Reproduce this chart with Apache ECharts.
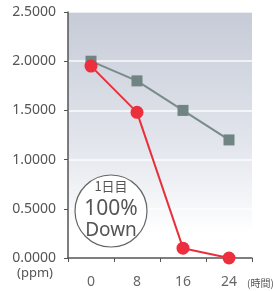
<!DOCTYPE html>
<html>
<head>
<meta charset="utf-8">
<script src="https://cdn.jsdelivr.net/npm/echarts@6/dist/echarts.min.js"></script>
<style>
  html, body { margin: 0; padding: 0; background: #fff; }
  #chart { width: 273px; height: 291px; }
</style>
</head>
<body>
<div id="chart"></div>
<script>
// 時間（カテゴリ）
var hours = ['0', '8', '16', '24'];
// 灰色の系列
var grayValues = [2.0, 1.8, 1.5, 1.2];
// 赤の系列
var redValues = [1.95, 1.48, 0.1, 0.0];
var yTicks = [0, 0.5, 1.0, 1.5, 2.0, 2.5];

var myChart = echarts.init(document.getElementById('chart'));
var fontName = '"Noto Sans", sans-serif';

option = {
    animation: false,
    grid: {
        left: 68, right: 21, top: 12, bottom: 33,
        show: true,
        borderWidth: 0,
        backgroundColor: new echarts.graphic.LinearGradient(0, 0, 0, 1, [
            { offset: 0, color: '#c6cbd7' },
            { offset: 0.55, color: '#e3e6ed' },
            { offset: 0.9, color: '#ffffff' },
            { offset: 1, color: '#ffffff' }
        ])
    },
    xAxis: {
        type: 'category',
        data: hours,
        boundaryGap: true,
        axisLine: { lineStyle: { color: '#555', width: 1.5 } },
        axisTick: { show: true, length: 4, lineStyle: { color: '#555' } },
        axisLabel: { color: '#666', fontSize: 14, fontFamily: fontName, margin: 17 }
    },
    yAxis: {
        type: 'value',
        min: yTicks[0],
        max: yTicks[yTicks.length - 1],
        interval: 0.5,
        axisLine: { show: true, lineStyle: { color: '#555', width: 1.5 } },
        axisTick: { show: true, length: 4, lineStyle: { color: '#555' } },
        axisLabel: {
            color: '#555', fontSize: 14, fontFamily: fontName, margin: 12,
            formatter: function (v) { return v.toFixed(4); }
        },
        splitLine: { show: true, lineStyle: { color: 'rgba(255,255,255,0.9)', width: 1.5 } }
    },
    series: [
        {
            name: 'gray',
            type: 'line',
            data: grayValues,
            symbol: 'rect',
            symbolSize: 11,
            lineStyle: { color: '#7a8b8b', width: 2 },
            itemStyle: { color: '#6f8483' }
        },
        {
            name: 'red',
            type: 'line',
            data: redValues,
            symbol: 'circle',
            symbolSize: 13,
            lineStyle: { color: '#e8303c', width: 2 },
            itemStyle: { color: '#ec2f3c' }
        }
    ],
    graphic: [
        {
            type: 'circle',
            shape: { cx: 111, cy: 211, r: 36 },
            style: { fill: '#ffffff', stroke: '#666', lineWidth: 1.2 },
            z: 1
        },
        {
            type: 'text', x: 111, y: 186, z: 2,
            style: { text: '1日目', fill: '#555', font: '13px "Noto Sans CJK JP"', align: 'center', verticalAlign: 'middle' }
        },
        {
            type: 'text', x: 111, y: 209, z: 2,
            style: { text: '100%', fill: '#555', font: '21px "Noto Sans"', align: 'center', verticalAlign: 'middle' }
        },
        {
            type: 'text', x: 111, y: 231, z: 2,
            style: { text: 'Down', fill: '#555', font: '19px "Noto Sans"', align: 'center', verticalAlign: 'middle' }
        },
        {
            type: 'text', x: 53, y: 273,
            style: { text: '(ppm)', fill: '#555', font: '13px "Noto Sans"', align: 'right', verticalAlign: 'middle' }
        },
        {
            type: 'text', x: 247, y: 283,
            style: { text: '(時間)', fill: '#555', font: '10px "Noto Sans CJK JP"', align: 'left', verticalAlign: 'middle' }
        }
    ]
};
myChart.setOption(option);
</script>
</body>
</html>
